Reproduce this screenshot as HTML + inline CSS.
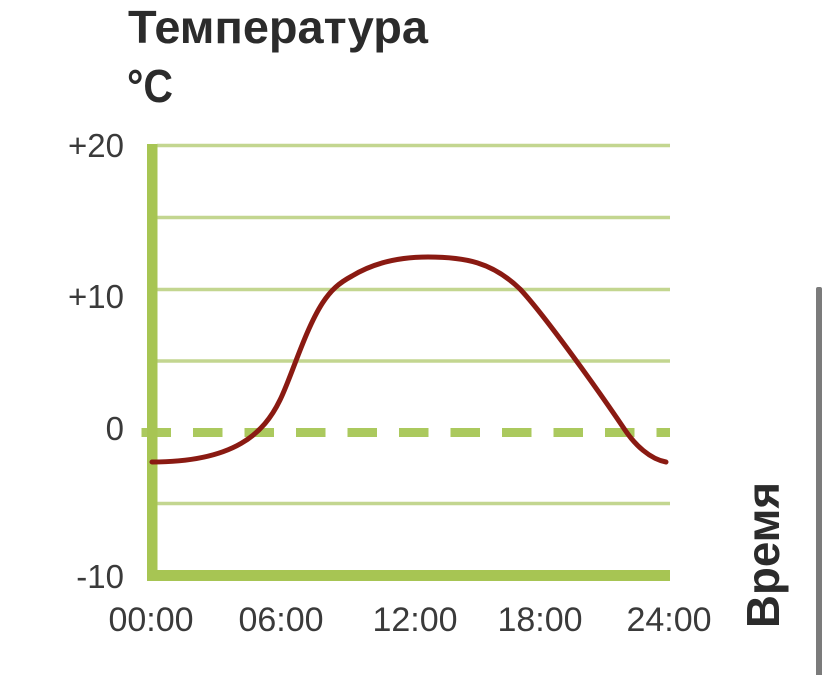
<!DOCTYPE html>
<html>
<head>
<meta charset="utf-8">
<style>
  html, body { margin: 0; padding: 0; background: #ffffff; }
  body { width: 828px; height: 675px; overflow: hidden; }
  svg { display: block; }
</style>
</head>
<body>
<svg width="828" height="675" viewBox="0 0 828 675" xmlns="http://www.w3.org/2000/svg">
  <rect x="0" y="0" width="828" height="675" fill="#ffffff"/>

  <!-- Title -->
  <text x="128" y="43" font-family="Liberation Sans, Noto Sans CJK SC, sans-serif" font-weight="bold" font-size="46" fill="#2b2b2b" textLength="300" lengthAdjust="spacingAndGlyphs">Температура</text>
  <text x="127" y="102" font-family="Liberation Sans, sans-serif" font-weight="bold" font-size="46" fill="#2b2b2b" textLength="46" lengthAdjust="spacingAndGlyphs">°C</text>

  <!-- Grid lines -->
  <g stroke="#c3d690" stroke-width="3.5">
    <line x1="157" y1="145.5" x2="670" y2="145.5"/>
    <line x1="157" y1="217.5" x2="670" y2="217.5"/>
    <line x1="157" y1="289.5" x2="670" y2="289.5"/>
    <line x1="157" y1="361" x2="670" y2="361"/>
    <line x1="157" y1="503.5" x2="670" y2="503.5"/>
  </g>

  <!-- Zero dashed line -->
  <line x1="141.5" y1="432.5" x2="670" y2="432.5" stroke="#abc95e" stroke-width="9" stroke-dasharray="29.5 22"/>

  <!-- Axes -->
  <rect x="147" y="144" width="10.5" height="437" fill="#a7c553"/>
  <rect x="147" y="570" width="523" height="11" fill="#a7c553"/>

  <!-- Curve -->
  <path fill="none" stroke="#8a1a12" stroke-width="5" stroke-linecap="round" stroke-linejoin="round"
    d="M152,462 C235,462 264,433 280,400
       C291,378 305,330 322.5,303
       C331,290 339,283 352,276
       C370,265 395,257 428,257
       C465,257 492,262 520,289
       C543.5,314 596,387 625,430
       C635,445 650,459 666,462"/>

  <!-- Y labels -->
  <g font-family="Liberation Sans, sans-serif" font-size="33" fill="#3a3a3a" text-anchor="end">
    <text x="124" y="157">+20</text>
    <text x="124" y="308">+10</text>
    <text x="124" y="440">0</text>
    <text x="124" y="588">-10</text>
  </g>

  <!-- X labels -->
  <g font-family="Liberation Sans, sans-serif" font-size="34" fill="#3a3a3a" text-anchor="middle">
    <text x="151" y="631">00:00</text>
    <text x="281" y="631">06:00</text>
    <text x="415" y="631">12:00</text>
    <text x="540" y="631">18:00</text>
    <text x="669" y="631">24:00</text>
  </g>

  <!-- Axis title rotated -->
  <text transform="translate(779,628) rotate(-90)" x="0" y="0" font-family="Liberation Sans, Noto Sans CJK SC, sans-serif" font-weight="bold" font-size="46" fill="#2b2b2b" textLength="146" lengthAdjust="spacingAndGlyphs">Время</text>

  <!-- Grey right bar -->
  <rect x="816" y="287" width="6" height="390" rx="2" fill="#7b7b7b"/>
</svg>
</body>
</html>
